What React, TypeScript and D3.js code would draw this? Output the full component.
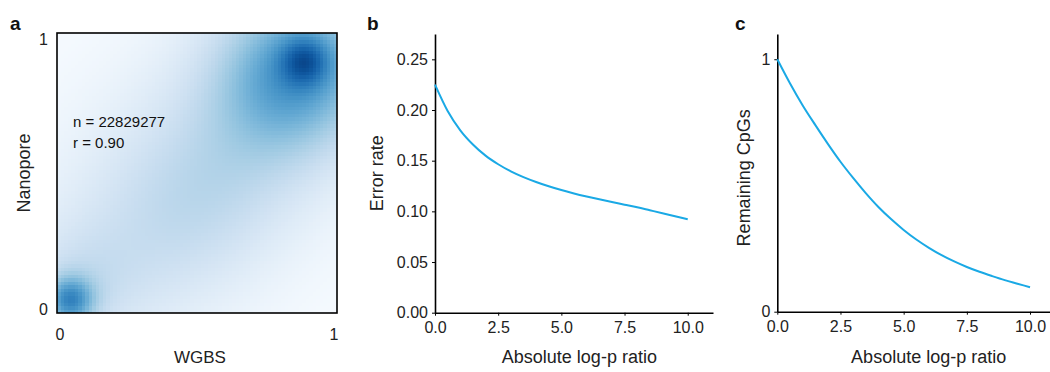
import React, { useEffect, useMemo, useRef } from 'react';
import * as d3 from 'd3';

// ---------- data ----------
const logPRatio = [0, 0.5, 1, 1.5, 2, 2.5, 3, 3.5, 4, 4.5, 5, 5.5, 6, 6.5, 7, 7.5, 8, 8.5, 9, 9.5, 10];
const errorRate = [0.225, 0.199, 0.18, 0.166, 0.155, 0.1465, 0.1395, 0.1338, 0.129, 0.1248, 0.121, 0.1177, 0.1147, 0.1119, 0.1092, 0.1066, 0.104, 0.1011, 0.0982, 0.0952, 0.0922];
const remainingCpGs = [1.0, 0.905, 0.818, 0.74, 0.665, 0.594, 0.53, 0.47, 0.415, 0.367, 0.324, 0.286, 0.253, 0.224, 0.199, 0.177, 0.158, 0.141, 0.125, 0.111, 0.097];
const xTickValues = [0, 2.5, 5, 7.5, 10];
const errorTickValues = [0, 0.05, 0.1, 0.15, 0.2, 0.25];
const cpgTickValues = [0, 1];
const annotN = 'n = 22829277';
const annotR = 'r = 0.90';

// density (KDE) components of panel a, in data units (WGBS, Nanopore)
const kdeCx = [0.885, 0.86, 0.045, 0.08, 0.5, 0.52];
const kdeCy = [0.9, 0.87, 0.045, 0.1, 0.5, 0.42];
const kdeSAlong = [0.06, 0.2, 0.06, 0.14, 0.55, 0.3];
const kdeSAcross = [0.06, 0.19, 0.06, 0.14, 0.3, 0.2];
const kdeWeight = [0.3, 0.5, 0.48, 0.12, 0.17, 0.12];
const kdeBase = 0.0;
const GRID = 80;

const FONT = 'Liberation Sans, Arial, Helvetica, sans-serif';
const LINE = '#1aa9e5';
const TEXT = '#222';

function density(x: number, y: number) {
  let v = kdeBase;
  for (let k = 0; k < kdeCx.length; k++) {
    const dx = x - kdeCx[k];
    const dy = y - kdeCy[k];
    const along = (dx + dy) / Math.SQRT2;
    const across = (dy - dx) / Math.SQRT2;
    v += kdeWeight[k] * Math.exp(-(along * along) / (2 * kdeSAlong[k] ** 2) - (across * across) / (2 * kdeSAcross[k] ** 2));
  }
  return v;
}

export default function App() {
  // panel a scales
  const xa = d3.scaleLinear().domain([0, 1]).range([57, 337]);
  const ya = d3.scaleLinear().domain([0, 1]).range([313, 33]);
  const color = d3.scaleSequential(d3.interpolateBlues).domain([0, 1]).clamp(true);

  const cells = useMemo(() => {
    const out: { i: number; j: number; c: string }[] = [];
    for (let i = 0; i < GRID; i++) {
      for (let j = 0; j < GRID; j++) {
        const v = density((i + 0.5) / GRID, (j + 0.5) / GRID);
        out.push({ i, j, c: color(Math.min(1, v)) });
      }
    }
    return out;
  }, []);

  // panel b scales
  const xb = d3.scaleLinear().domain([0, 11]).range([435, 713]);
  const yb = d3.scaleLinear().domain([0, 0.275]).range([312.7, 34]);
  // panel c scales
  const xc = d3.scaleLinear().domain([0, 11]).range([777.3, 1055.3]);
  const yc = d3.scaleLinear().domain([0, 1.1]).range([311.7, 34]);

  const lineB = d3.line<number>().x((_, i) => xb(logPRatio[i])).y((d) => yb(d)).curve(d3.curveMonotoneX);
  const lineC = d3.line<number>().x((_, i) => xc(logPRatio[i])).y((d) => yc(d)).curve(d3.curveMonotoneX);

  const bx = useRef<SVGGElement>(null);
  const by = useRef<SVGGElement>(null);
  const cx = useRef<SVGGElement>(null);
  const cy = useRef<SVGGElement>(null);

  useEffect(() => {
    const style = (g: d3.Selection<SVGGElement, unknown, null, undefined>) => {
      g.select('.domain').attr('stroke', '#000').attr('stroke-width', 1.6);
      g.selectAll('.tick line').attr('stroke', '#000').attr('stroke-width', 1);
      g.selectAll('.tick text').attr('fill', TEXT).attr('font-size', 16).attr('font-family', FONT);
    };
    const gbx = d3.select(bx.current!);
    gbx.call(d3.axisBottom(xb).tickValues(xTickValues).tickFormat(d3.format('.1f')).tickSize(3).tickSizeOuter(0).tickPadding(6));
    style(gbx);
    const gby = d3.select(by.current!);
    gby.call(d3.axisLeft(yb).tickValues(errorTickValues).tickFormat(d3.format('.2f')).tickSize(3).tickSizeOuter(0).tickPadding(4));
    style(gby);
    const gcx = d3.select(cx.current!);
    gcx.call(d3.axisBottom(xc).tickValues(xTickValues).tickFormat(d3.format('.1f')).tickSize(3).tickSizeOuter(0).tickPadding(6));
    style(gcx);
    const gcy = d3.select(cy.current!);
    gcy.call(d3.axisLeft(yc).tickValues(cpgTickValues).tickFormat(d3.format('d')).tickSize(3).tickSizeOuter(0).tickPadding(4));
    style(gcy);
  }, []);

  const cw = xa(1 / GRID) - xa(0);
  const ch = ya(0) - ya(1 / GRID);

  return (
    <svg width={1050} height={372} style={{ position: 'absolute', left: 0, top: 0, background: '#fff' }} fontFamily={FONT}>
      <rect x={0} y={0} width={1050} height={372} fill="#fff" />
      {/* panel a */}
      <text x={10} y={30} fontSize={19} fontWeight="bold" fill="#111">a</text>
      <defs>
        <clipPath id="frameA">
          <rect x={xa(0)} y={ya(1)} width={xa(1) - xa(0)} height={ya(0) - ya(1)} />
        </clipPath>
      </defs>
      <g clipPath="url(#frameA)">
        {cells.map((d) => (
          <rect key={d.i * GRID + d.j} x={xa(d.i / GRID)} y={ya((d.j + 1) / GRID)} width={cw + 0.4} height={ch + 0.4} fill={d.c} shapeRendering="crispEdges" />
        ))}
      </g>
      <rect x={xa(0)} y={ya(1)} width={xa(1) - xa(0)} height={ya(0) - ya(1)} fill="none" stroke="#000" strokeWidth={1.6} />
      <text x={xa(0) - 9} y={ya(1) + 8} fontSize={16} fill={TEXT} textAnchor="end" dominantBaseline="middle">1</text>
      <text x={xa(0) - 9} y={ya(0) - 2} fontSize={16} fill={TEXT} textAnchor="end" dominantBaseline="middle">0</text>
      <text x={xa(0) + 3} y={ya(0) + 23} fontSize={16} fill={TEXT} textAnchor="middle" dominantBaseline="middle">0</text>
      <text x={xa(1) - 3} y={ya(0) + 23} fontSize={16} fill={TEXT} textAnchor="middle" dominantBaseline="middle">1</text>
      <text x={200} y={359} fontSize={17} fill={TEXT} textAnchor="middle" dominantBaseline="middle">WGBS</text>
      <text transform={`translate(25,${(ya(0) + ya(1)) / 2}) rotate(-90)`} fontSize={18} fill={TEXT} textAnchor="middle" dominantBaseline="middle">Nanopore</text>
      <text x={73} y={127} fontSize={15} fill="#111">{annotN}</text>
      <text x={73} y={148} fontSize={15} fill="#111">{annotR}</text>

      {/* panel b */}
      <text x={367} y={30} fontSize={19} fontWeight="bold" fill="#111">b</text>
      <g ref={bx} transform={`translate(0,${yb(0)})`} />
      <g ref={by} transform={`translate(${xb(0)},0)`} />
      <path d={lineB(errorRate) || ''} fill="none" stroke={LINE} strokeWidth={2} />
      <text x={(xb(0) + xb(10)) / 2 + 18} y={358} fontSize={18} fill={TEXT} textAnchor="middle" dominantBaseline="middle">Absolute log-p ratio</text>
      <text transform={`translate(378,${(yb(0) + yb(0.275)) / 2}) rotate(-90)`} fontSize={18} fill={TEXT} textAnchor="middle" dominantBaseline="middle">Error rate</text>

      {/* panel c */}
      <text x={735} y={30} fontSize={19} fontWeight="bold" fill="#111">c</text>
      <g ref={cx} transform={`translate(0,${yc(0)})`} />
      <g ref={cy} transform={`translate(${xc(0)},0)`} />
      <path d={lineC(remainingCpGs) || ''} fill="none" stroke={LINE} strokeWidth={2} />
      <text x={(xc(0) + xc(10)) / 2 + 25} y={358} fontSize={18} fill={TEXT} textAnchor="middle" dominantBaseline="middle">Absolute log-p ratio</text>
      <text transform={`translate(745,${(yc(0) + yc(1.1)) / 2 + 5}) rotate(-90)`} fontSize={18} fill={TEXT} textAnchor="middle" dominantBaseline="middle">Remaining CpGs</text>
    </svg>
  );
}
